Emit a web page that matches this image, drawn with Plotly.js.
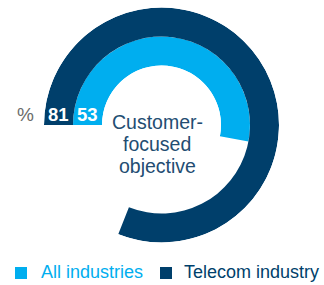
<!DOCTYPE html>
<html><head><meta charset="utf-8">
<script src="https://cdn.plot.ly/plotly-3.0.1.min.js"></script>
<style>html,body{margin:0;padding:0;background:#fff}#c{width:324px;height:285px}</style>
</head><body><div id="c"></div>
<script>
const series = ["All industries", "Telecom industry"];
const values = [53, 81];
const colors = ["#00aeef", "#003f6b"];
const centerLines = ["Customer-", "focused", "objective"];
const unitLabel = "%";

const W = 324, H = 285;
const cx = 161.5, cy = 125, R = 117.5;
const px = x => x / W, py = y => 1 - y / H;
const FONT = "Liberation Sans, Arial, sans-serif";

const traces = series.map((name, i) => ({
  type: "barpolar",
  name: name,
  r: [1],
  base: [i],
  theta: [values[i] * 3.6 / 2],
  width: [values[i] * 3.6],
  marker: {color: colors[i], line: {width: 0}},
  hoverinfo: "skip",
  showlegend: false
}));

const annotations = centerLines.map((t, i) => ({
  text: t, x: px(157), y: py(122 + 22 * i), xref: "paper", yref: "paper", showarrow: false,
  xanchor: "center", yanchor: "middle",
  font: {family: FONT, size: 19.5, color: "#234d72"}
})).concat([
  {text: unitLabel, x: px(25), y: py(114), xref: "paper", yref: "paper", showarrow: false,
   xanchor: "center", yanchor: "middle",
   font: {family: FONT, size: 19, color: "#6b6b6b"}},
  {text: "<b>" + values[1] + "</b>", x: px(58), y: py(114), xref: "paper", yref: "paper", showarrow: false,
   xanchor: "center", yanchor: "middle",
   font: {family: FONT, size: 18.5, color: "#ffffff"}},
  {text: "<b>" + values[0] + "</b>", x: px(87.5), y: py(114), xref: "paper", yref: "paper", showarrow: false,
   xanchor: "center", yanchor: "middle",
   font: {family: FONT, size: 18.5, color: "#ffffff"}},
  {text: series[0], x: px(39), y: py(272), xref: "paper", yref: "paper", showarrow: false,
   xanchor: "left", yanchor: "middle",
   font: {family: FONT, size: 18, color: colors[0]}},
  {text: series[1], x: px(182), y: py(272), xref: "paper", yref: "paper", showarrow: false,
   xanchor: "left", yanchor: "middle",
   font: {family: FONT, size: 18, color: colors[1]}}
]);

const shapes = [
  {type: "rect", xref: "paper", yref: "paper", x0: px(15), x1: px(27), y0: py(279), y1: py(267),
   fillcolor: colors[0], line: {width: 0}},
  {type: "rect", xref: "paper", yref: "paper", x0: px(160), x1: px(172), y0: py(279), y1: py(267),
   fillcolor: colors[1], line: {width: 0}}
];

const layout = {
  width: W, height: H,
  margin: {l: 0, r: 0, t: 0, b: 0},
  paper_bgcolor: "#ffffff",
  showlegend: false,
  polar: {
    domain: {x: [px(cx - R), px(cx + R)], y: [py(cy + R), py(cy - R)]},
    hole: 59.5 / 117.5,
    bgcolor: "rgba(0,0,0,0)",
    barmode: "overlay",
    radialaxis: {range: [0, 2], visible: false, showgrid: false, showline: false, showticklabels: false, ticks: ""},
    angularaxis: {rotation: 180, direction: "clockwise", visible: false, showgrid: false, showline: false,
                  showticklabels: false, ticks: "", thetaunit: "degrees"}
  },
  annotations: annotations,
  shapes: shapes
};

Plotly.newPlot("c", traces, layout, {staticPlot: true, displayModeBar: false});
</script></body></html>
